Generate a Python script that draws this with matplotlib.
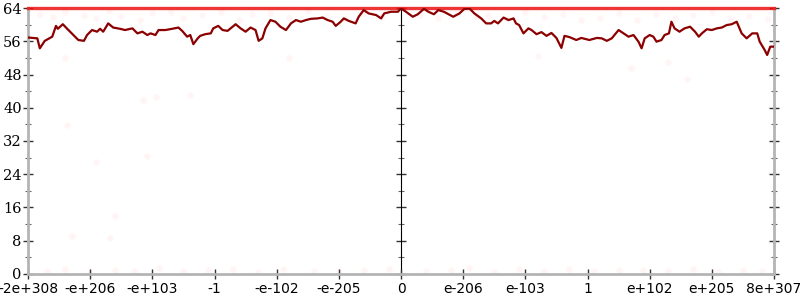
import numpy as np
import matplotlib
matplotlib.use('Agg')
import matplotlib.pyplot as plt
from matplotlib.ticker import MultipleLocator, NullFormatter

# x positions are in "tick units": -6 .. 6 (one unit between labelled ticks)
tick_pos = list(range(-6, 7))
tick_labels = ['-2e+308', '-e+206', '-e+103', '-1', '-e-102', '-e-205', '0',
               'e-206', 'e-103', '1', 'e+102', 'e+205', '8e+307']

# dark red series
line_x = [-6.00, -5.85, -5.81, -5.73, -5.61, -5.55, -5.52, -5.44, -5.35, -5.27,
          -5.19, -5.10, -5.05, -4.97, -4.89, -4.84, -4.79, -4.71, -4.63, -4.52,
          -4.44, -4.32, -4.24, -4.16, -4.08, -4.03, -3.95, -3.90, -3.79, -3.68,
          -3.58, -3.52, -3.44, -3.39, -3.34, -3.27, -3.23, -3.15, -3.06, -3.02,
          -2.94, -2.87, -2.79, -2.71, -2.66, -2.58, -2.50, -2.42, -2.34, -2.29,
          -2.23, -2.18, -2.10, -2.02, -1.94, -1.85, -1.77, -1.69, -1.61, -1.53,
          -1.45, -1.34, -1.26, -1.18, -1.10, -1.05, -0.97, -0.92, -0.84, -0.73,
          -0.68, -0.60, -0.52, -0.40, -0.32, -0.27, -0.16, -0.05, 0.00,
          0.08, 0.19, 0.27, 0.37, 0.44, 0.53, 0.60, 0.69, 0.84, 0.94,
          1.02, 1.10, 1.18, 1.29, 1.37, 1.45, 1.50, 1.56, 1.65, 1.73,
          1.81, 1.85, 1.90, 1.97, 2.05, 2.10, 2.18, 2.26, 2.34, 2.42,
          2.50, 2.58, 2.63, 2.71, 2.82, 2.90, 3.03, 3.15, 3.23, 3.31,
          3.39, 3.50, 3.58, 3.66, 3.74, 3.82, 3.87, 3.92, 4.00, 4.06,
          4.11, 4.19, 4.24, 4.31, 4.35, 4.40, 4.48, 4.56, 4.65, 4.73,
          4.79, 4.84, 4.92, 5.00, 5.08, 5.16, 5.24, 5.32, 5.40, 5.48,
          5.56, 5.65, 5.73, 5.77, 5.85, 5.89, 5.94, 6.00]
line_y = [56.9, 56.7, 54.3, 56.1, 57.1, 59.7, 59.0, 60.1, 58.7, 57.5,
          56.3, 56.1, 57.5, 58.7, 58.3, 59.0, 58.3, 60.3, 59.3, 59.0,
          58.7, 59.1, 57.9, 58.3, 57.5, 57.9, 57.5, 58.7, 58.7, 59.0,
          59.3, 58.5, 57.1, 57.5, 55.3, 56.7, 57.3, 57.7, 57.9, 59.1,
          59.7, 58.7, 58.5, 59.5, 60.1, 59.1, 58.3, 59.3, 58.7, 56.1,
          56.7, 59.1, 61.1, 60.7, 59.5, 58.7, 60.3, 61.1, 60.7, 61.1,
          61.4, 61.5, 61.7, 61.1, 60.7, 59.7, 60.7, 61.5, 60.9, 60.3,
          61.9, 63.5, 62.7, 62.3, 61.5, 62.7, 63.1, 63.1, 63.9,
          63.1, 61.9, 62.5, 63.8, 63.1, 62.5, 63.5, 63.1, 61.9, 62.7,
          63.8, 63.9, 62.7, 61.5, 60.3, 60.3, 60.9, 60.3, 61.7, 61.1,
          61.5, 60.3, 59.9, 57.9, 59.1, 58.7, 57.7, 58.2, 57.3, 58.0,
          56.8, 54.4, 57.3, 57.0, 56.3, 56.8, 56.3, 56.8, 56.7, 56.1,
          56.7, 58.7, 57.9, 57.1, 57.5, 55.9, 54.3, 56.7, 57.5, 57.1,
          55.9, 56.3, 57.5, 57.9, 60.7, 59.1, 58.3, 59.1, 59.5, 58.3,
          57.1, 57.9, 58.9, 58.7, 59.1, 59.3, 59.9, 60.1, 60.7, 57.9,
          56.7, 57.9, 57.9, 55.9, 53.9, 52.7, 54.7, 54.7]

# bright red maximum line
max_x = [-6, 6]
max_y = [64, 64]

# faint scattered samples
dot_x = [-5.8, -5.6, -5.4, -5.1, -4.9, -4.7, -4.5, -4.2, -4.0, -3.7, -3.5, -3.2,
         -2.9, -2.6, -2.4, -2.1, -1.8, -1.5, -1.2, -0.9, -0.6, -0.3, 0.3, 0.6,
         0.9, 1.2, 1.4, 1.7, 2.0, 2.3, 2.6, 2.9, 3.2, 3.5, 3.8, 4.1, 4.4, 4.7,
         5.0, 5.3, 5.6, 5.9,
         -5.37, -4.9, -4.15, -3.94, -3.40, -4.08, -4.6, -5.3, -4.68, -1.8, 2.2,
         3.7, 4.6, -5.4, 4.3,
         -5.7, -5.4, -5.0, -4.6, -4.3, -3.9, -3.5, -3.1, -2.7, -2.3, -1.9, -1.4,
         -1.0, -0.6, -0.2, 0.4, 0.8, 1.1, 1.5, 1.9, 2.3, 2.7, 3.1, 3.5, 3.9,
         4.3, 4.7, 5.1, 5.5, 5.8]
dot_y = [62.5, 61.8, 63.0, 62.2, 61.5, 63.2, 62.0, 61.2, 62.8, 63.0, 61.6, 62.4,
         63.1, 61.0, 62.6, 62.9, 61.9, 63.3, 62.1, 61.4, 62.7, 61.9, 62.4, 61.6,
         62.9, 61.8, 62.3, 61.4, 63.0, 61.9, 62.5, 61.2, 61.6, 62.8, 61.0, 62.5,
         61.7, 62.2, 63.0, 61.5, 62.0, 61.3,
         35.9, 27.0, 41.9, 42.6, 43.1, 28.4, 14.0, 9.1, 8.7, 52.0, 52.5,
         49.5, 47.0, 52.0, 51.0,
         0.8, 1.2, 0.5, 1.0, 0.7, 1.4, 0.6, 0.9, 1.1, 0.5, 1.3, 0.8,
         0.6, 1.0, 1.2, 0.7, 0.9, 1.4, 0.5, 1.1, 0.8, 1.2, 0.6, 1.0, 0.9,
         0.7, 1.3, 0.5, 1.0, 0.8]

axis_grey = '#b4b4b4'
tick_col = '#333333'

fig = plt.figure(figsize=(8, 3), dpi=100)
ax = fig.add_axes([0.035, 0.0867, 0.9325, 0.8866])

ax.scatter(dot_x, dot_y, s=22, color='#ff4040', alpha=0.05, linewidths=0, zorder=1)
ax.plot(max_x, max_y, color='#ee1111', lw=2.4, alpha=0.85, clip_on=False, zorder=3)
ax.plot(line_x, line_y, color='#8b0000', lw=1.6, zorder=4)

ax.set_xlim(-6, 6)
ax.set_ylim(0, 64)

ax.spines['top'].set_visible(False)
for s in ['left', 'right', 'bottom']:
    ax.spines[s].set_color(axis_grey)
    ax.spines[s].set_linewidth(2)

ax.set_xticks(tick_pos)
ax.set_xticklabels(tick_labels, family='DejaVu Sans', fontsize=10)
ax.yaxis.set_major_locator(MultipleLocator(8))
ax.yaxis.set_minor_locator(MultipleLocator(4))
for lab in ax.get_yticklabels():
    lab.set_family('DejaVu Serif')
    lab.set_fontsize(10.5)

ax.tick_params(axis='x', direction='inout', length=7, width=1, color=tick_col, pad=2)
ax.tick_params(axis='y', which='major', direction='inout', length=7, width=1,
               color=tick_col, pad=1, left=True, right=True, labelright=False)
ax.tick_params(axis='y', which='minor', direction='inout', length=4, width=0.8,
               color='#666666', left=True, right=True)

# middle axis at x = 0
mid = ax.secondary_yaxis(0.5)
mid.spines['left'].set_color(axis_grey)
mid.spines['left'].set_linewidth(2)
mid.yaxis.set_major_locator(MultipleLocator(8))
mid.yaxis.set_minor_locator(MultipleLocator(4))
mid.yaxis.set_major_formatter(NullFormatter())
mid.tick_params(which='major', direction='inout', length=7, width=1, color=tick_col,
                labelleft=False, labelright=False)
mid.tick_params(which='minor', direction='inout', length=4, width=0.8, color='#666666')

fig.savefig('out.png', dpi=100)
